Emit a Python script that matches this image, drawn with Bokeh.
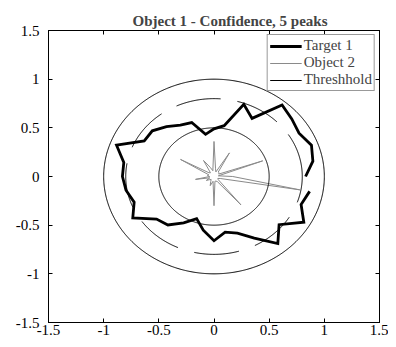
import numpy as np
from bokeh.plotting import figure
from bokeh.models import Range1d, LinearAxis, FixedTicker, Legend, LegendItem
from bokeh.embed import file_html
from bokeh.resources import INLINE

# ---------------- data ----------------
title_text = "Object 1 - Confidence, 5 peaks"
tick_values = [-1.5, -1, -0.5, 0, 0.5, 1, 1.5]
tick_labels = ["-1.5", "-1", "-0.5", "0", "0.5", "1", "1.5"]

# Target 1 : polar samples every 10 degrees (0..350), not closed
target_angles_deg = [0, 10, 20, 30, 40, 50, 60, 70, 80, 90, 100, 110,
                     120, 130, 140, 150, 160, 170, 180, 190, 200, 210, 220, 230,
                     240, 250, 260, 270, 280, 290, 300, 310, 320, 330, 340, 350]
target_radii = [0.83, 0.91, 0.94, 0.89, 0.92, 0.96, 0.69, 0.79, 0.53, 0.49, 0.44, 0.59,
                0.61, 0.67, 0.73, 0.73, 0.94, 0.83, 0.83, 0.81, 0.77, 0.85, 0.68, 0.65,
                0.55, 0.46, 0.56, 0.66, 0.58, 0.62, 0.73, 0.90, 0.77, 0.94, 0.84, 0.88]

# Object 2 : polar samples every 10 degrees (closed)
object_angles_deg = target_angles_deg
object_radii = [0.17, 0.04, 0.47, 0.05, 0.06, 0.06, 0.28, 0.05, 0.08, 0.36, 0.06, 0.10,
                0.19, 0.05, 0.06, 0.35, 0.05, 0.06, 0.04, 0.17, 0.04, 0.08, 0.05, 0.04,
                0.06, 0.10, 0.05, 0.30, 0.05, 0.05, 0.06, 0.38, 0.05, 0.04, 0.06, 0.79]

# Threshold circles
threshold_solid_radii = [0.5, 1.0]
threshold_dashed_radius = 0.8

# ---------------- figure ----------------
p = figure(frame_width=331, frame_height=292,
           x_range=Range1d(-1.5, 1.5), y_range=Range1d(-1.5, 1.5),
           output_backend="svg", toolbar_location=None,
           min_border_left=48, min_border_right=9, min_border_top=30, min_border_bottom=18,
           background_fill_color="white", border_fill_color="white")
p.xgrid.visible = False
p.ygrid.visible = False
p.outline_line_color = "black"
p.outline_line_width = 1

FONT = "Liberation Serif"

def style_axis(ax, show_labels=True):
    ax.ticker = FixedTicker(ticks=tick_values)
    ax.major_tick_in = 4
    ax.major_tick_out = 0
    ax.minor_tick_in = 0
    ax.minor_tick_out = 0
    ax.axis_line_color = "black"
    ax.axis_line_width = 1
    ax.major_tick_line_color = "black"
    if show_labels:
        ax.major_label_overrides = {v: s for v, s in zip(tick_values, tick_labels)}
        ax.major_label_text_font = FONT
        ax.major_label_text_font_size = "15px"
        ax.major_label_text_color = "black"
    else:
        ax.major_label_overrides = {v: "" for v in tick_values}
        ax.major_label_text_font_size = "0px"
        ax.major_label_standoff = 0

style_axis(p.xaxis[0])
style_axis(p.yaxis[0])
p.xaxis[0].major_label_standoff = 2
p.yaxis[0].major_label_standoff = 9

for loc in ("above", "right"):
    ax = LinearAxis()
    style_axis(ax, show_labels=False)
    p.add_layout(ax, loc)

p.title.text = title_text
p.title.text_font = FONT
p.title.text_font_style = "bold"
p.title.text_font_size = "15px"
p.title.align = "left"
p.title.offset = 84
p.title.standoff = 3

# Target 1
ta = np.deg2rad(np.array(target_angles_deg, dtype=float))
tr = np.array(target_radii)
r_target = p.line(tr * np.cos(ta), tr * np.sin(ta), line_color="black", line_width=2.8,
                  line_join="miter")

# Object 2
oa = np.deg2rad(np.array(object_angles_deg + object_angles_deg[:1], dtype=float))
orr = np.array(object_radii + object_radii[:1])
r_object = p.line(orr * np.cos(oa), orr * np.sin(oa), line_color="#8a8a8a", line_width=1)

# Threshold circles
th = np.linspace(0, 2 * np.pi, 721)
r_thr = None
for rad in threshold_solid_radii:
    rr = p.line(rad * np.cos(th), rad * np.sin(th), line_color="black", line_width=1)
    if r_thr is None:
        r_thr = rr
p.line(threshold_dashed_radius * np.cos(th), threshold_dashed_radius * np.sin(th),
       line_color="black", line_width=1, line_dash="45 17")

legend = Legend(items=[LegendItem(label="Target 1", renderers=[r_target]),
                       LegendItem(label="Object 2", renderers=[r_object]),
                       LegendItem(label="Threshhold", renderers=[r_thr])],
                location="top_right")
legend.label_text_font = FONT
legend.label_text_font_size = "15px"
legend.label_height = 16
legend.glyph_height = 16
legend.glyph_width = 32
legend.label_standoff = 2
legend.padding = 2
legend.spacing = 0
legend.margin = 4
legend.border_line_color = "#333333"
legend.border_line_width = 1
legend.background_fill_color = "white"
legend.background_fill_alpha = 1.0
p.add_layout(legend)

open("out.html", "w").write(file_html(p, INLINE))
